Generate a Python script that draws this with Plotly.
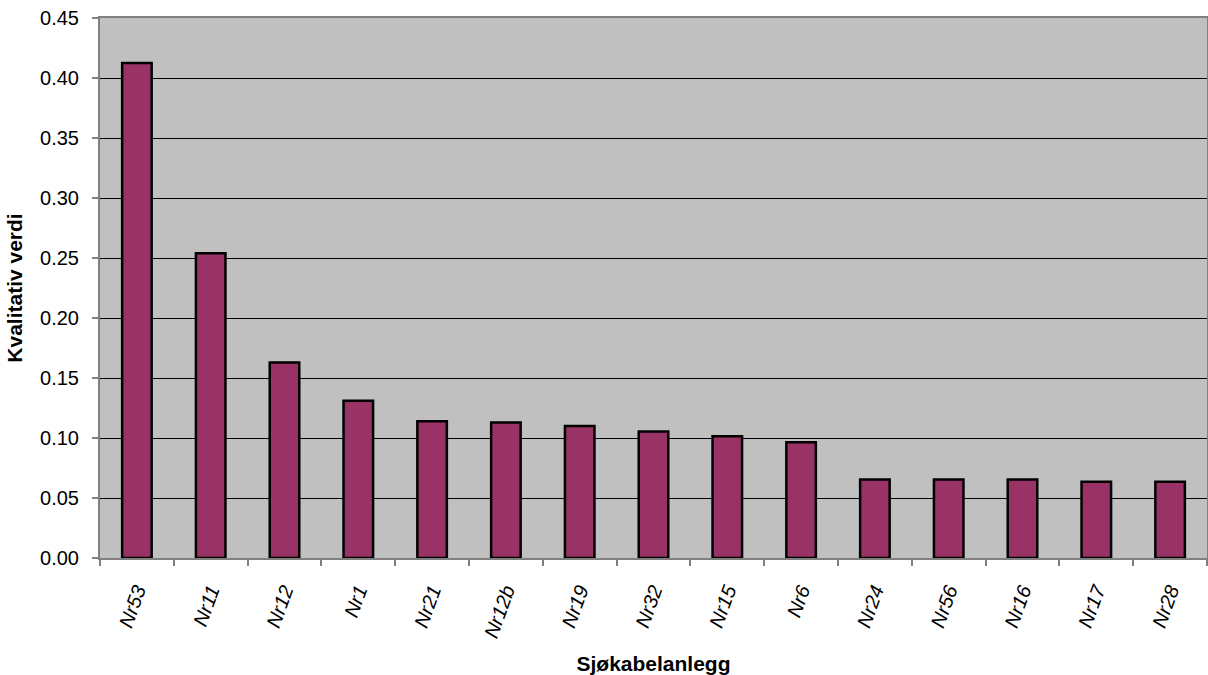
import plotly.graph_objects as go

categories = ["Nr53", "Nr11", "Nr12", "Nr1", "Nr21", "Nr12b", "Nr19", "Nr32",
              "Nr15", "Nr6", "Nr24", "Nr56", "Nr16", "Nr17", "Nr28"]
values = [0.4125, 0.254, 0.163, 0.131, 0.114, 0.113, 0.110, 0.1055,
          0.1015, 0.0965, 0.0655, 0.0655, 0.0655, 0.0635, 0.0635]
y_ticks = [0.00, 0.05, 0.10, 0.15, 0.20, 0.25, 0.30, 0.35, 0.40, 0.45]

font_family = "Liberation Sans, Arial, sans-serif"

fig = go.Figure(
    go.Bar(
        x=categories,
        y=values,
        marker=dict(color="#993366", line=dict(color="#000000", width=2.5)),
        width=0.4,
    )
)

fig.update_layout(
    width=1208,
    height=675,
    margin=dict(l=100, r=1, t=18, b=117),
    paper_bgcolor="#FFFFFF",
    plot_bgcolor="#C0C0C0",
    showlegend=False,
    font=dict(family=font_family, color="#000000", size=20),
)

fig.update_xaxes(
    type="category",
    automargin=False,
    tickson="boundaries",
    ticks="outside",
    ticklen=6,
    tickcolor="#808080",
    tickwidth=2,
    tickangle=-70,
    ticklabelstandoff=11,
    tickfont=dict(family=font_family, size=20, style="italic"),
    showline=True,
    linecolor="#808080",
    linewidth=2,
    mirror=True,
    showgrid=False,
    title=dict(text="<b>Sjøkabelanlegg</b>", font=dict(size=21), standoff=18),
)

fig.update_yaxes(
    automargin=False,
    range=[0, 0.45],
    tickvals=y_ticks,
    tickformat=".2f",
    ticks="outside",
    ticklen=6,
    tickcolor="#808080",
    tickwidth=2,
    ticklabelstandoff=9,
    tickfont=dict(family=font_family, size=20),
    showline=True,
    linecolor="#808080",
    linewidth=2,
    mirror=True,
    showgrid=True,
    gridcolor="#000000",
    gridwidth=1,
    zeroline=False,
    title=dict(text="<b>Kvalitativ verdi</b>", font=dict(size=21), standoff=12),
)

fig.write_html("out.html")
